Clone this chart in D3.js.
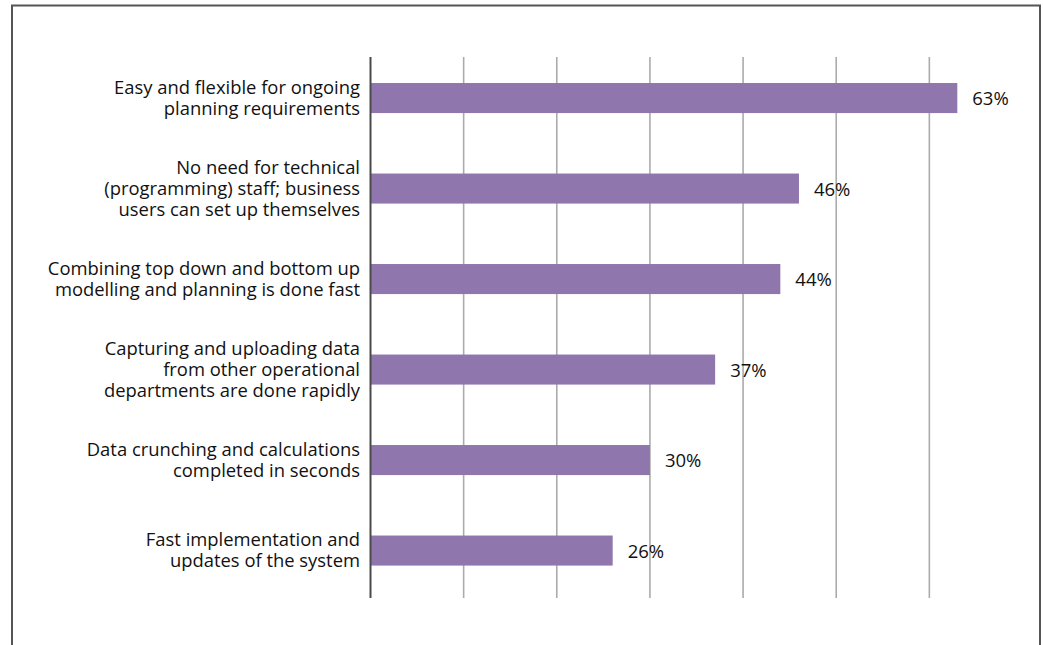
<!DOCTYPE html>
<html>
<head>
<meta charset="utf-8">
<script src="https://cdn.jsdelivr.net/npm/d3@7"></script>
<style>
  html, body { margin: 0; padding: 0; background: #fff; }
  svg { display: block; }
  text { font-family: "Open Sans", "Noto Sans", sans-serif; fill: #111; }
</style>
</head>
<body>
<svg id="chart" width="1043" height="645"></svg>
<script>
// Survey answers, top to bottom
const categories = [
  ["Easy and flexible for ongoing", "planning requirements"],
  ["No need for technical", "(programming) staff; business", "users can set up themselves"],
  ["Combining top down and bottom up", "modelling and planning is done fast"],
  ["Capturing and uploading data", "from other operational", "departments are done rapidly"],
  ["Data crunching and calculations", "completed in seconds"],
  ["Fast implementation and", "updates of the system"]
];
const values = [63, 46, 44, 37, 30, 26];
const gridTicks = [10, 20, 30, 40, 50, 60];

const svg = d3.select("#chart");
const W = 1043, H = 645;

// plot area
const plot = { left: 370.5, right: 1022.5, top: 57, bottom: 598 };

const x = d3.scaleLinear().domain([0, 70]).range([plot.left, plot.right]);
const y = d3.scaleBand()
  .domain(d3.range(categories.length))
  .range([52.8, 595.8])
  .paddingInner(0.668)
  .paddingOuter(0.334);

// outer frame (open at the bottom)
svg.append("path")
  .attr("d", `M12,${H + 2} V5.5 H1040 V${H + 2}`)
  .attr("fill", "none")
  .attr("stroke", "#555")
  .attr("stroke-width", 2);

// vertical gridlines
svg.append("g")
  .selectAll("line")
  .data(gridTicks)
  .join("line")
  .attr("x1", d => x(d)).attr("x2", d => x(d))
  .attr("y1", plot.top).attr("y2", plot.bottom)
  .attr("stroke", "#ababab")
  .attr("stroke-width", 1.6);

// bars
svg.append("g")
  .selectAll("rect")
  .data(values)
  .join("rect")
  .attr("x", x(0))
  .attr("y", (d, i) => y(i))
  .attr("width", d => x(d) - x(0))
  .attr("height", y.bandwidth())
  .attr("fill", "#8f76ad");

// category axis line
svg.append("line")
  .attr("x1", x(0)).attr("x2", x(0))
  .attr("y1", plot.top).attr("y2", plot.bottom)
  .attr("stroke", "#4a4a4a")
  .attr("stroke-width", 2);

// category labels, right aligned beside the axis
const lineH = 21, capH = 12.5;
const labels = svg.append("g")
  .selectAll("text")
  .data(categories)
  .join("text")
  .attr("text-anchor", "end")
  .attr("font-size", 18.4)
  .attr("y", (d, i) => y(i) + y.bandwidth() / 2 - (d.length - 1) * lineH / 2 + capH / 2);
labels.selectAll("tspan")
  .data(d => d)
  .join("tspan")
  .attr("x", x(0) - 10.5)
  .attr("dy", (d, j) => j === 0 ? 0 : lineH)
  .text(d => d);

// value labels
svg.append("g")
  .selectAll("text")
  .data(values)
  .join("text")
  .attr("font-size", 18.5)
  .attr("x", d => x(d) + 15)
  .attr("y", (d, i) => y(i) + y.bandwidth() / 2 + 7)
  .text(d => d + "%");
</script>
</body>
</html>
